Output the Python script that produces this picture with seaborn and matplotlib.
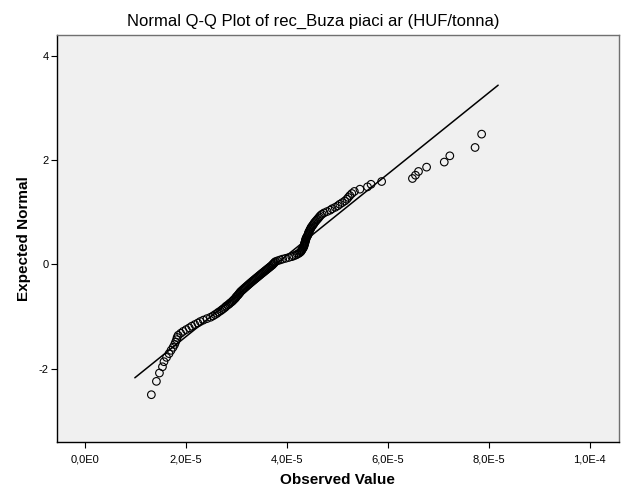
import numpy as np
import pandas as pd
import matplotlib
matplotlib.use("Agg")
import matplotlib.pyplot as plt
import seaborn as sns

observed = [
    1.32, 1.42, 1.48, 1.54, 1.57, 1.62, 1.67, 1.71, 1.75, 1.78,
    1.80, 1.82, 1.83, 1.85, 1.90, 1.95, 2.01, 2.07, 2.12, 2.18,
    2.24, 2.29, 2.35, 2.42, 2.49, 2.54, 2.58, 2.62, 2.65, 2.69,
    2.72, 2.75, 2.78, 2.80, 2.83, 2.86, 2.88, 2.91, 2.93, 2.95,
    2.97, 2.99, 3.00, 3.02, 3.04, 3.05, 3.07, 3.08, 3.10, 3.12,
    3.14, 3.16, 3.18, 3.20, 3.22, 3.24, 3.26, 3.28, 3.30, 3.32,
    3.34, 3.36, 3.38, 3.40, 3.42, 3.44, 3.46, 3.48, 3.50, 3.52,
    3.54, 3.56, 3.58, 3.60, 3.62, 3.64, 3.66, 3.68, 3.70, 3.72,
    3.73, 3.75, 3.76, 3.78, 3.82, 3.87, 3.92, 3.98, 4.04, 4.10,
    4.14, 4.18, 4.21, 4.24, 4.26, 4.28, 4.29, 4.30, 4.31, 4.32,
    4.33, 4.34, 4.34, 4.35, 4.35, 4.36, 4.36, 4.37, 4.37, 4.38,
    4.38, 4.39, 4.40, 4.41, 4.42, 4.43, 4.43, 4.44, 4.45, 4.46,
    4.47, 4.48, 4.49, 4.51, 4.52, 4.54, 4.55, 4.57, 4.59, 4.61,
    4.63, 4.65, 4.67, 4.70, 4.74, 4.80, 4.86, 4.90, 4.96, 5.01,
    5.05, 5.10, 5.15, 5.19, 5.22, 5.25, 5.29, 5.34, 5.45, 5.60,
    5.67, 5.88, 6.49, 6.55, 6.61, 6.77, 7.12, 7.23, 7.73, 7.86,
]

# expected normal values, lower half (upper half mirrors it)
expected_low = [
    -2.499, -2.243, -2.083, -1.963, -1.866, -1.783, -1.711, -1.648, -1.590, -1.537,
    -1.488, -1.443, -1.400, -1.360, -1.321, -1.285, -1.250, -1.217, -1.185, -1.154,
    -1.124, -1.095, -1.068, -1.040, -1.014, -0.988, -0.963, -0.939, -0.915, -0.891,
    -0.868, -0.846, -0.824, -0.802, -0.781, -0.760, -0.740, -0.719, -0.699, -0.680,
    -0.660, -0.641, -0.622, -0.603, -0.584, -0.566, -0.548, -0.530, -0.512, -0.494,
    -0.477, -0.459, -0.442, -0.425, -0.408, -0.391, -0.374, -0.357, -0.341, -0.324,
    -0.308, -0.292, -0.276, -0.260, -0.244, -0.228, -0.212, -0.196, -0.180, -0.164,
    -0.149, -0.133, -0.117, -0.102, -0.086, -0.070, -0.055, -0.039, -0.023, -0.008,
]
expected = expected_low + [-v for v in expected_low[::-1]]

x_ticks = [0, 2, 4, 6, 8, 10]
x_tick_labels = ["0,0E0", "2,0E-5", "4,0E-5", "6,0E-5", "8,0E-5", "1,0E-4"]
y_ticks = [-2, 0, 2, 4]

df = pd.DataFrame({"observed": observed, "expected": expected})

# reference line: standardized value of the data, over range +/- 5%
mu = df["observed"].mean()
sd = df["observed"].std()
lo, hi = df["observed"].min(), df["observed"].max()
pad = 0.05 * (hi - lo)
line_x = np.array([lo - pad, hi + pad])
line_df = pd.DataFrame({"x": line_x, "y": (line_x - mu) / sd})

sns.set_style("ticks")
plt.rcParams["font.family"] = ["Liberation Sans", "DejaVu Sans"]
plt.rcParams["axes.unicode_minus"] = False
plt.rcParams["text.color"] = "black"
plt.rcParams["axes.labelcolor"] = "black"
plt.rcParams["xtick.color"] = "black"
plt.rcParams["ytick.color"] = "black"

fig = plt.figure(figsize=(6.26, 5.01), dpi=100)
ax = fig.add_axes([0.0906, 0.1184, 0.8982, 0.8117])
ax.set_facecolor("#f0f0f0")

sns.lineplot(data=line_df, x="x", y="y", ax=ax, color="black", linewidth=1.1)
sns.scatterplot(data=df, x="observed", y="expected", ax=ax, marker="o",
                s=30, facecolor="none", edgecolor="black", linewidth=0.8)

ax.set_xlim(-0.554, 10.58)
ax.set_ylim(-3.40, 4.40)
ax.set_xticks(x_ticks)
ax.set_xticklabels(x_tick_labels)
ax.set_yticks(y_ticks)
ax.tick_params(axis="both", labelsize=8, length=4, width=0.8,
               colors="black", pad=2)
ax.tick_params(axis="x", pad=5)

for side in ["left", "bottom"]:
    ax.spines[side].set_color("black")
    ax.spines[side].set_linewidth(1.0)
for side in ["top", "right"]:
    ax.spines[side].set_visible(True)
    ax.spines[side].set_color("#707070")
    ax.spines[side].set_linewidth(1.0)

ax.set_xlabel("Observed Value", fontsize=11, fontweight="bold", labelpad=6)
ax.set_ylabel("Expected Normal", fontsize=11, fontweight="bold", labelpad=5)
fig.text(0.5, 0.958, "Normal Q-Q Plot of rec_Buza piaci ar (HUF/tonna)",
         ha="center", va="center", fontsize=12, color="black")

fig.savefig("out.png", dpi=100)
